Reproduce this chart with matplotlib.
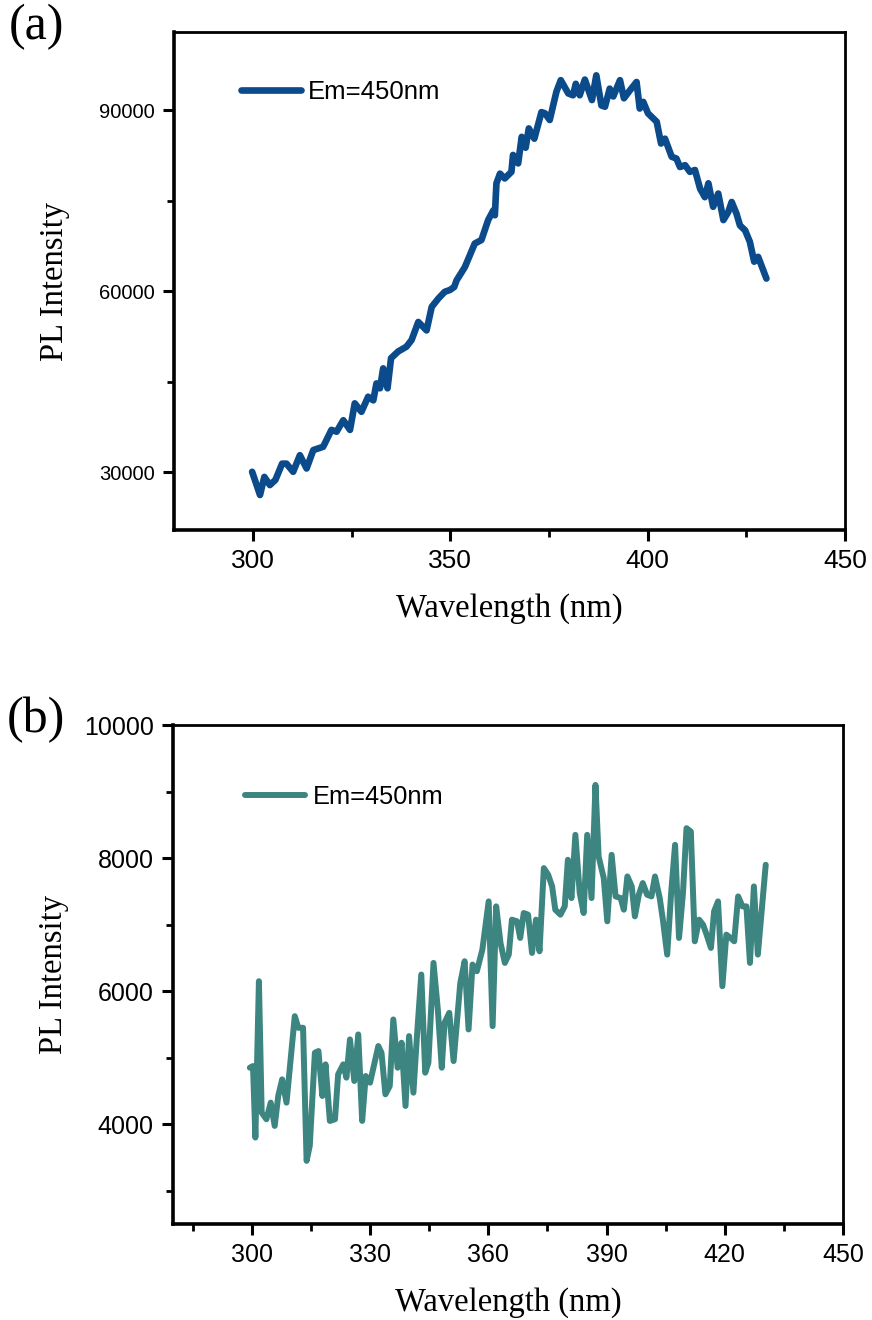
import matplotlib.pyplot as plt
from matplotlib.ticker import MultipleLocator

# panel (a): PL spectrum, Em=450nm
wl_a = [299.8, 301.8, 302.9, 304.3, 305.7, 307.4, 308.5, 310.2, 311.9, 313.6,
        315.3, 317.8, 319.9, 321.2, 322.9, 324.6, 325.8, 327.5, 329.2, 330.5,
        331.3, 332.2, 333.0, 334.1, 335.0, 336.8, 338.9, 340.2, 341.9, 344.0,
        345.3, 347.0, 348.6, 349.9, 351.0, 351.6, 353.7, 356.2, 357.9, 359.6,
        360.9, 361.3, 361.7, 362.6, 363.8, 365.5, 365.9, 367.2, 368.1, 369.1,
        369.9, 371.3, 373.1, 374.0, 375.2, 376.9, 378.0, 379.9, 381.1, 381.8,
        382.8, 384.1, 385.9, 387.0, 388.3, 389.2, 390.4, 391.3, 393.0, 394.0,
        395.5, 397.2, 398.0, 398.9, 400.1, 402.3, 403.4, 404.4, 406.1, 407.3,
        408.2, 409.5, 410.7, 412.0, 413.3, 414.5, 415.4, 416.6, 417.9, 419.2,
        420.4, 421.3, 422.5, 423.4, 424.7, 425.9, 427.0, 428.0, 430.1]
pl_a = [30050, 26200, 29200, 27850, 28700, 31400, 31400, 30050, 32800, 30600,
        33650, 34200, 37000, 36700, 38600, 37000, 41400, 40000, 42500, 41900,
        44700, 43900, 47200, 43900, 48900, 50000, 50800, 51900, 54900, 53500,
        57400, 58800, 59900, 60200, 60700, 61800, 64000, 67900, 68500, 71800,
        73400, 72600, 77900, 79500, 78700, 79800, 82600, 81200, 85600, 83800,
        87000, 85300, 89700, 89500, 88400, 93100, 95000, 92800, 92500, 94400,
        92500, 95100, 91700, 95800, 90800, 90600, 93600, 92300, 95000, 92000,
        93300, 94700, 90300, 91400, 89500, 88100, 84500, 85300, 82300, 82000,
        80600, 80900, 79800, 80100, 77000, 75600, 77900, 74000, 76200, 71800,
        73100, 74800, 72900, 70900, 70100, 68200, 64900, 65700, 62100]

# panel (b)
wl_b = [299.5, 300.3, 300.9, 301.8, 302.5, 303.7, 304.8, 305.8, 306.7, 307.7,
        308.8, 310.9, 311.8, 313.0, 313.9, 314.7, 316.0, 316.9, 317.9, 318.7,
        319.8, 321.1, 321.9, 323.2, 324.0, 324.9, 326.0, 327.0, 328.0, 328.9,
        330.0, 332.1, 332.9, 333.9, 335.0, 335.9, 337.0, 338.0, 339.0, 339.9,
        341.0, 341.9, 343.0, 344.0, 344.8, 346.1, 347.2, 348.2, 348.9, 350.1,
        351.2, 352.9, 354.0, 355.0, 356.0, 357.1, 358.5, 360.1, 361.1, 362.0,
        363.1, 364.2, 365.2, 366.0, 367.3, 368.1, 369.0, 370.1, 371.1, 372.1,
        373.0, 374.1, 375.2, 376.2, 377.0, 378.3, 379.4, 380.2, 381.1, 382.1,
        383.2, 384.2, 385.1, 386.2, 387.2, 388.0, 389.3, 390.2, 391.3, 392.3,
        393.6, 394.4, 395.3, 396.4, 397.2, 398.2, 399.2, 400.3, 401.4, 402.3,
        403.5, 404.3, 405.4, 406.4, 407.4, 408.4, 409.4, 410.3, 411.4, 412.4,
        413.5, 414.5, 415.4, 416.5, 417.3, 418.3, 419.4, 420.4, 421.5, 422.4,
        423.4, 424.5, 425.5, 426.4, 427.4, 428.4, 430.4]
pl_b = [4850, 4875, 3800, 6150, 4175, 4075, 4325, 3975, 4425, 4675,
        4325, 5625, 5450, 5450, 3450, 3675, 5075, 5100, 4425, 4900,
        4050, 4075, 4750, 4900, 4700, 5275, 4650, 5350, 4050, 4725,
        4625, 5175, 5075, 4450, 4575, 5575, 4850, 5225, 4275, 5325,
        4475, 5325, 6250, 4775, 4925, 6425, 5725, 4850, 5525, 5675,
        4950, 6125, 6450, 5425, 6400, 6300, 6625, 7350, 5475, 7275,
        6725, 6425, 6550, 7075, 7050, 6800, 7175, 7150, 6575, 7075,
        6600, 7850, 7750, 7575, 7225, 7150, 7275, 7975, 7400, 8350,
        7475, 7175, 8350, 7400, 9100, 8025, 7700, 7050, 8050, 7425,
        7400, 7225, 7725, 7575, 7125, 7450, 7625, 7450, 7425, 7725,
        7400, 7075, 6550, 7475, 8200, 6800, 7475, 8450, 8400, 6750,
        7075, 7000, 6850, 6650, 7200, 7350, 6075, 6850, 6800, 6750,
        7425, 7275, 7275, 6425, 7575, 6550, 7900]

color_a = '#0b4a8b'
color_b = '#3d8580'
label = 'Em=450nm'

serif = ['Liberation Serif', 'DejaVu Serif']
sans = ['Liberation Sans', 'DejaVu Sans']
plt.rcParams['font.family'] = sans


def style_axes(ax, tick_x, tick_y, ylab_x):
    for side in ['left', 'bottom']:
        ax.spines[side].set_linewidth(2.6)
    for side in ['top', 'right']:
        ax.spines[side].set_linewidth(2.0)
    ax.tick_params(which='major', direction='out', length=8, width=2.2, pad=6)
    ax.tick_params(which='minor', direction='out', length=5, width=2.0)
    ax.tick_params(axis='x', labelsize=tick_x)
    ax.tick_params(axis='y', labelsize=tick_y)
    ax.set_xlabel('Wavelength (nm)', family=serif, fontsize=23.5, labelpad=14)
    ax.set_ylabel('PL Intensity', family=serif, fontsize=23.5)
    ax.yaxis.set_label_coords(ylab_x, 0.5)


fig = plt.figure(figsize=(8.72, 13.2), dpi=100)

ax1 = fig.add_axes([0.1995, 0.5985, 0.7695, 0.3773])
ax1.plot(wl_a, pl_a, color=color_a, lw=4.8, solid_joinstyle='round',
         solid_capstyle='round', label=label)
ax1.set_xlim(280, 450)
ax1.set_ylim(20400, 103000)
ax1.xaxis.set_major_locator(MultipleLocator(50))
ax1.xaxis.set_minor_locator(MultipleLocator(25))
ax1.yaxis.set_major_locator(MultipleLocator(30000))
ax1.yaxis.set_minor_locator(MultipleLocator(15000))
style_axes(ax1, 19, 14.5, -0.155)
ax1.legend(loc='center left', bbox_to_anchor=(0.0998, 0.8795), frameon=False,
           fontsize=18.5, handlelength=2.35, handletextpad=0.25,
           borderpad=0, borderaxespad=0)

ax2 = fig.add_axes([0.1984, 0.0727, 0.7683, 0.378])
ax2.plot(wl_b, pl_b, color=color_b, lw=4.3, solid_joinstyle='round',
         solid_capstyle='round', label=label)
ax2.set_xlim(280, 450)
ax2.set_ylim(2500, 10000)
ax2.xaxis.set_major_locator(MultipleLocator(30))
ax2.xaxis.set_minor_locator(MultipleLocator(15))
ax2.yaxis.set_major_locator(MultipleLocator(2000))
ax2.yaxis.set_minor_locator(MultipleLocator(1000))
style_axes(ax2, 18, 18, -0.155)
ax2.legend(loc='center left', bbox_to_anchor=(0.1075, 0.8557), frameon=False,
           fontsize=18.3, handlelength=2.35, handletextpad=0.3,
           borderpad=0, borderaxespad=0)

fig.text(0.010, 0.9975, '(a)', family=serif, fontsize=36, va='top', ha='left')
fig.text(0.008, 0.4725, '(b)', family=serif, fontsize=36, va='top', ha='left')

fig.savefig('out.png', dpi=100)
